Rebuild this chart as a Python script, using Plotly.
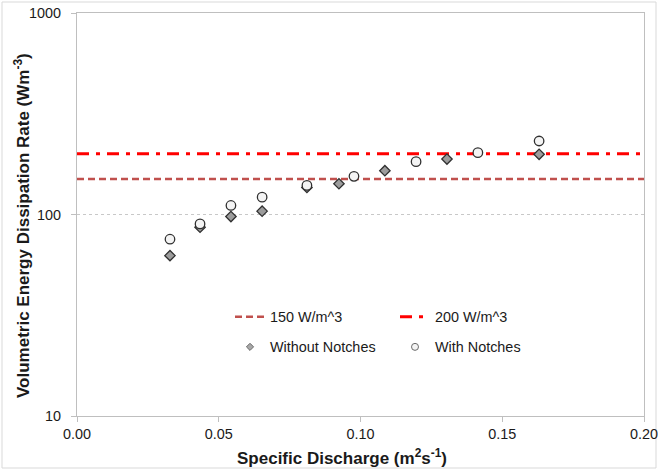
import plotly.graph_objects as go

# Data
q_without = [0.0328, 0.0434, 0.0543, 0.0653, 0.0811, 0.0924, 0.1086, 0.1305, 0.163]
e_without = [62.5, 86.5, 97.7, 103.9, 136.2, 142.1, 165.0, 188.4, 198.9]
q_with = [0.0328, 0.0434, 0.0543, 0.0653, 0.0811, 0.0977, 0.1196, 0.1414, 0.163]
e_with = [75.4, 89.8, 110.9, 121.9, 139.4, 154.6, 182.9, 202.8, 231.6]
threshold_x = [0.0, 0.2]
thr150 = [150, 150]
thr200 = [200, 200]
x_ticks = [0.0, 0.05, 0.10, 0.15, 0.20]
x_tick_text = ["0.00", "0.05", "0.10", "0.15", "0.20"]
y_ticks = [10, 100, 1000]
y_tick_text = ["10", "100", "1000"]
x_title = "<b>Specific Discharge (m<sup>2</sup>s<sup>-1</sup>)</b>"
y_title = "<b>Volumetric Energy Dissipation Rate (Wm<sup>-3</sup>)</b>"

W, H = 658, 470
ML, MR, MT, MB = 77, 14, 13, 54
PW, PH = W - ML - MR, H - MT - MB

FONT = "Liberation Sans, Arial, sans-serif"
TXT = "#1a1a1a"

DIAMOND = dict(color="#9C9C9C", line=dict(color="#303030", width=1.3))
CIRCLE = dict(color="#F4F4F4", line=dict(color="#303030", width=1.3))

fig = go.Figure()
fig.add_trace(go.Scatter(
    x=threshold_x, y=thr150, mode="lines", name="150 W/m^3",
    line=dict(color="#C0504D", width=2.5, dash="7px,4px"), legend="legend"))
fig.add_trace(go.Scatter(
    x=threshold_x, y=thr200, mode="lines", name="200 W/m^3",
    line=dict(color="#FF0000", width=3, dash="12px,7px,4px,7px"), legend="legend"))
fig.add_trace(go.Scatter(
    x=q_without, y=e_without, mode="markers", name="Without Notches",
    marker=dict(symbol="diamond", size=8, **DIAMOND), showlegend=False))
fig.add_trace(go.Scatter(
    x=q_with, y=e_with, mode="markers", name="With Notches",
    marker=dict(symbol="circle", size=9.5, **CIRCLE), showlegend=False))
# legend entries (smaller symbols as in the reference)
fig.add_trace(go.Scatter(
    x=[None], y=[None], mode="markers", name="Without Notches",
    marker=dict(symbol="diamond", size=5.5, color="#A8A8A8",
                line=dict(color="#6a6a6a", width=1)), legend="legend2"))
fig.add_trace(go.Scatter(
    x=[None], y=[None], mode="markers", name="With Notches",
    marker=dict(symbol="circle", size=7, color="#F4F4F4",
                line=dict(color="#6a6a6a", width=1)), legend="legend2"))


def ly(py):
    return 1 - (py - MT) / PH


def lx(px):
    return (px - ML) / PW


legend_common = dict(
    orientation="h", xanchor="left", yanchor="middle",
    bgcolor="rgba(0,0,0,0)", font=dict(family=FONT, size=14.4, color=TXT),
    entrywidth=120, entrywidthmode="pixels", itemwidth=30,
)
fig.update_layout(
    legend=dict(x=lx(230), y=ly(317), **legend_common),
    legend2=dict(x=lx(230), y=ly(347), **legend_common),
)

fig.update_xaxes(
    range=[0, 0.2], tickvals=x_ticks, ticktext=x_tick_text, automargin=False,
    ticklabeloverflow="allow",
    showline=True, linecolor="#BFBFBF", linewidth=1, mirror=True,
    ticks="outside", ticklen=5, tickcolor="#BFBFBF",
    showgrid=False, zeroline=False,
    tickfont=dict(family=FONT, size=14.4, color=TXT),
)
fig.update_yaxes(
    type="log", range=[1, 3], tickvals=y_ticks, ticktext=y_tick_text,
    automargin=False, ticklabelstandoff=7, ticklabeloverflow="allow",
    showline=True, linecolor="#BFBFBF", linewidth=1, mirror=True,
    ticks="outside", ticklen=5, tickcolor="#BFBFBF",
    showgrid=True, gridcolor="#C8C8C8", griddash="dot", gridwidth=1,
    zeroline=False,
    tickfont=dict(family=FONT, size=14.4, color=TXT),
)

fig.add_annotation(text=x_title, xref="paper", yref="paper",
                   x=lx(341.5), y=ly(457), xanchor="center", yanchor="middle",
                   showarrow=False, font=dict(family=FONT, size=17, color=TXT))
fig.add_annotation(text=y_title, xref="paper", yref="paper", textangle=-90,
                   x=lx(22), y=ly(226), xanchor="center", yanchor="middle",
                   showarrow=False, font=dict(family=FONT, size=17, color=TXT))

fig.add_shape(type="rect", xref="paper", yref="paper",
              x0=lx(2), x1=lx(W - 2), y0=ly(H - 2), y1=ly(2),
              line=dict(color="#D9D9D9", width=1), layer="below")

fig.update_layout(
    width=W, height=H,
    margin=dict(l=ML, r=MR, t=MT, b=MB),
    paper_bgcolor="white", plot_bgcolor="white",
    font=dict(family=FONT, color=TXT),
)

fig.write_html("out.html")
